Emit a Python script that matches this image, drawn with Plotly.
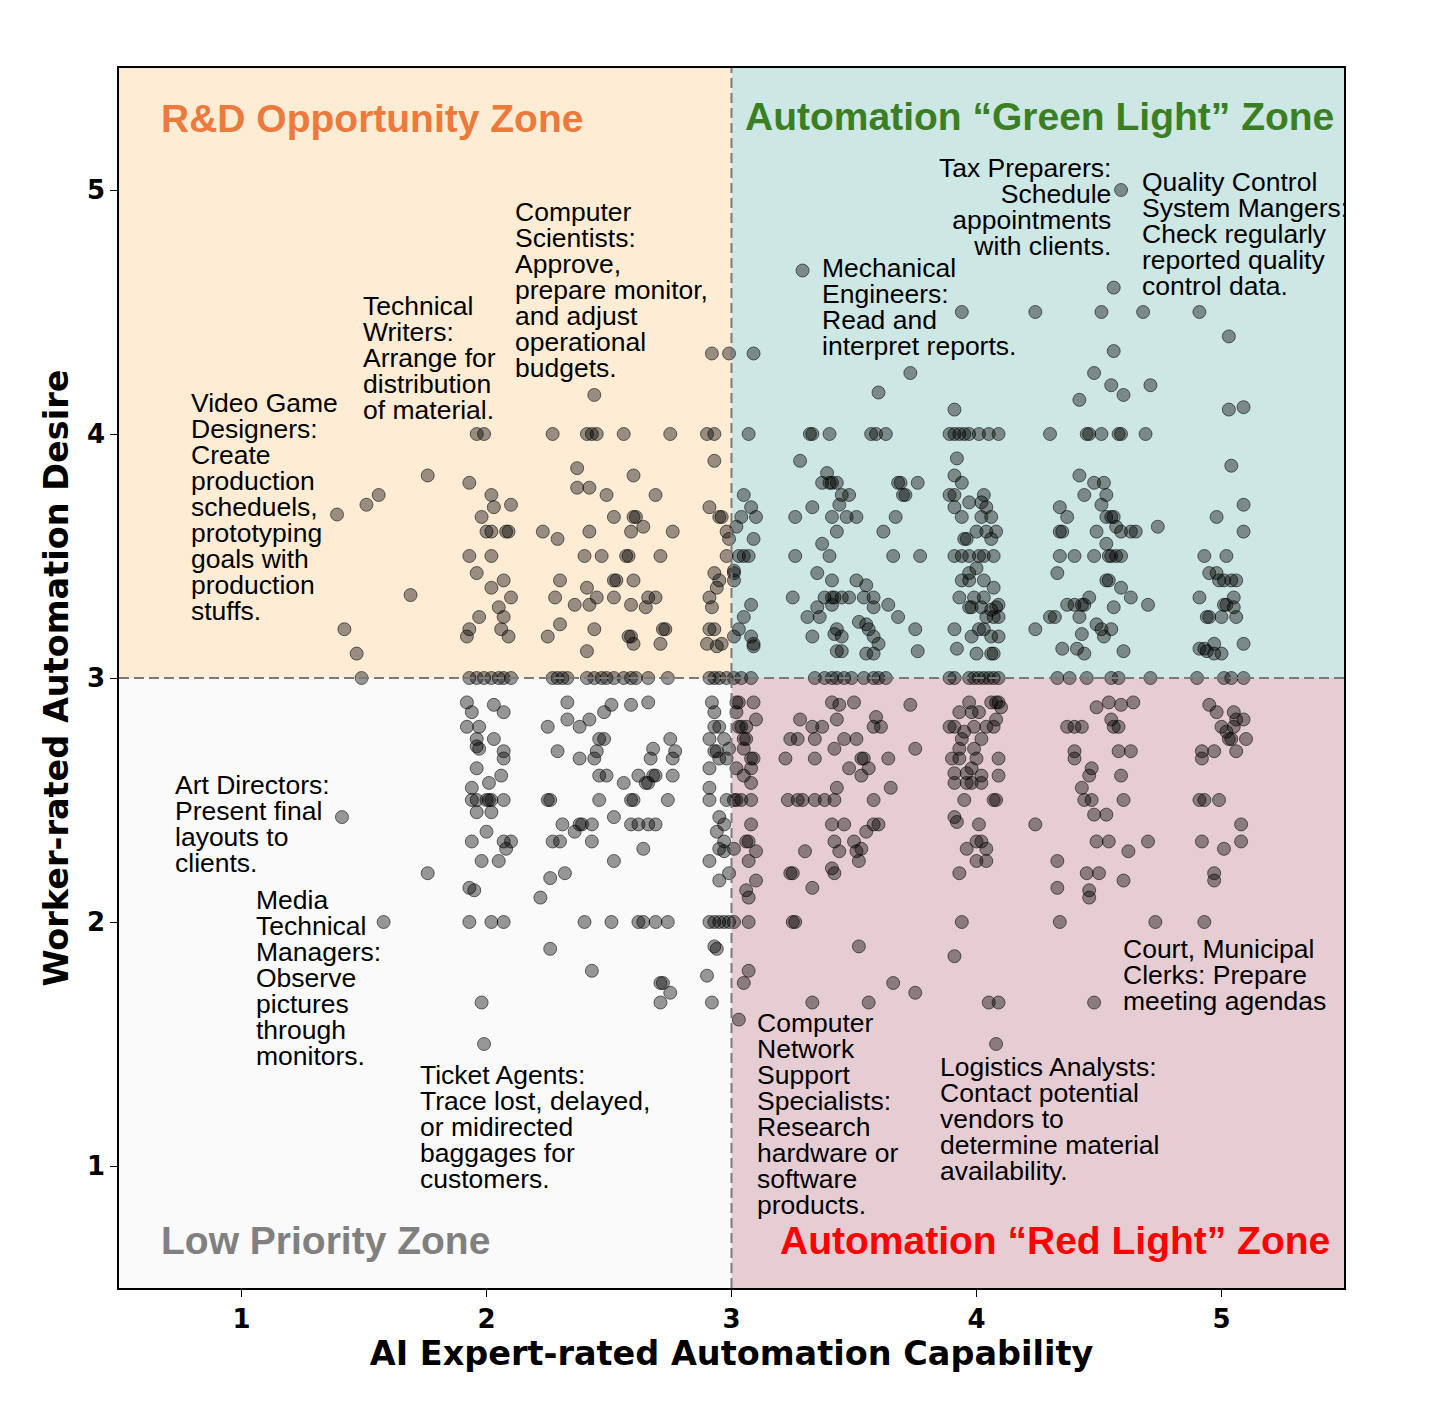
import plotly.graph_objects as go

# ---------------- data ----------------
# R&D Opportunity Zone (x < 3, y >= 3)
rd_x = [1.39, 1.42, 1.47, 1.49, 1.51, 1.56, 1.76, 1.69,
        1.96, 1.99, 1.93, 2.02, 2.03, 2.10, 1.98, 2.00, 2.02, 2.08, 2.09, 1.93, 2.02, 1.96, 2.07, 2.02,
        2.10, 2.05, 1.97, 2.07, 1.93, 1.92, 2.06, 2.09,
        1.93, 1.96, 1.99, 2.02, 2.05, 2.07, 2.10,
        2.44, 2.27, 2.41, 2.43, 2.45, 2.56, 2.75, 2.90, 2.93, 2.93, 2.37, 2.60, 2.37, 2.42, 2.49, 2.69,
        2.91, 2.95, 2.96, 2.52, 2.60, 2.61, 2.64, 2.23, 2.29, 2.42, 2.59, 2.76, 2.98, 2.99, 2.40, 2.47,
        2.57, 2.58, 2.71, 2.98, 2.93, 2.30, 2.52, 2.53, 2.60, 2.95, 2.41, 2.94, 2.28, 2.45, 2.52, 2.66,
        2.69, 2.91, 2.36, 2.42, 2.59, 2.65, 2.92, 2.30, 2.44, 2.25, 2.58, 2.59, 2.60, 2.72, 2.73, 2.71,
        2.91, 2.93, 2.90, 2.94, 2.96, 2.41, 2.92, 2.99,
        2.27, 2.29, 2.31, 2.33, 2.41, 2.44, 2.47, 2.49, 2.52, 2.56, 2.59, 2.61, 2.66, 2.74, 2.91, 2.93,
        2.95, 2.98]
rd_y = [3.67, 3.20, 3.10, 3.00, 3.71, 3.75, 3.83, 3.34,
        4.00, 4.00, 3.80, 3.75, 3.70, 3.71, 3.66, 3.60, 3.60, 3.60, 3.60, 3.50, 3.50, 3.43, 3.40, 3.37,
        3.33, 3.29, 3.25, 3.25, 3.20, 3.17, 3.20, 3.17,
        3.00, 3.00, 3.00, 3.00, 3.00, 3.00, 3.00,
        4.16, 4.00, 4.00, 4.00, 4.00, 4.00, 4.00, 4.00, 4.00, 3.89, 3.86, 3.83, 3.78, 3.78, 3.75, 3.75,
        3.70, 3.66, 3.66, 3.66, 3.66, 3.66, 3.62, 3.60, 3.57, 3.60, 3.60, 3.60, 3.60, 3.57, 3.50, 3.50,
        3.50, 3.50, 3.50, 3.50, 3.43, 3.40, 3.40, 3.40, 3.40, 3.40, 3.37, 3.37, 3.33, 3.33, 3.33, 3.33,
        3.33, 3.33, 3.30, 3.30, 3.30, 3.29, 3.29, 3.22, 3.20, 3.17, 3.17, 3.17, 3.14, 3.20, 3.20, 3.14,
        3.20, 3.20, 3.14, 3.13, 3.14, 3.11, 4.33, 4.33,
        3.00, 3.00, 3.00, 3.00, 3.00, 3.00, 3.00, 3.00, 3.00, 3.00, 3.00, 3.00, 3.00, 3.00, 3.00, 3.00,
        3.00, 3.00]

# Automation "Green Light" Zone (x >= 3, y >= 3)
green_x = [3.01, 3.09, 3.29, 3.73, 3.60,
           3.07, 3.32, 3.33, 3.40, 3.57, 3.59, 3.63,
           3.05, 3.08, 3.04, 3.10, 3.02, 3.09, 3.03, 3.05, 3.07, 3.01, 3.01, 3.08, 3.05, 3.03, 3.08, 3.09,
           3.09, 3.01,
           3.26, 3.28, 3.33, 3.39, 3.37, 3.40, 3.41, 3.43, 3.48, 3.45, 3.44, 3.41, 3.47, 3.51, 3.67, 3.68,
           3.69, 3.76, 3.70, 3.71, 3.37, 3.43, 3.62, 3.26, 3.40, 3.66, 3.77, 3.35, 3.41, 3.51, 3.55, 3.25,
           3.38, 3.41, 3.42, 3.45, 3.48, 3.54, 3.58, 3.35, 3.41, 3.58, 3.64, 3.31, 3.36, 3.68, 3.52, 3.55,
           3.43, 3.42, 3.45, 3.56, 3.58, 3.60, 3.33, 3.75, 3.43, 3.45, 3.55, 3.58, 3.76,
           3.01, 3.04, 3.08, 3.34, 3.38, 3.41, 3.43, 3.46, 3.49, 3.54, 3.58, 3.60, 3.63,
           4.55, 4.60, 4.71, 4.42, 3.91, 5.03, 5.09,
           4.59, 4.56, 3.94, 4.24, 4.51, 4.68, 4.91, 5.03, 4.56, 4.48,
           3.89, 3.91, 3.93, 3.95, 3.97, 4.01, 4.05, 4.09, 4.30, 4.45, 4.46, 4.51, 4.58, 4.59, 4.69,
           3.92, 5.04, 3.91, 3.94, 4.42, 4.48, 4.52, 3.89, 3.91, 4.03, 3.91, 3.94, 3.97, 4.02, 4.04, 4.02,
           4.06, 4.44, 4.53, 4.51, 4.34, 4.37, 4.53, 4.55, 4.56, 5.09, 4.98, 4.57, 4.59, 4.63, 4.65, 4.74,
           4.34, 4.35, 4.49, 4.00, 4.04, 4.08, 4.06, 3.95, 3.96, 4.53, 5.09,
           3.91, 3.94, 3.97, 4.01, 4.03, 4.07, 4.34, 4.40, 4.48, 4.54, 4.55, 4.57, 4.59, 4.93, 5.02,
           3.97, 4.00, 3.94, 3.97, 4.03, 4.07, 4.33, 4.53, 4.54, 4.59, 4.95, 4.98, 4.99, 5.01, 5.04, 5.06,
           3.93, 3.99, 4.03, 3.97, 3.98, 4.02, 4.09, 4.08, 4.06, 4.46, 4.63, 4.37, 4.40, 4.43, 4.44, 4.56,
           4.70, 4.91, 5.01, 5.02, 5.05, 5.05, 4.04, 4.07, 4.09, 4.30, 4.32, 4.42, 4.94, 4.95, 5.00, 5.06,
           3.91, 4.01, 4.03, 4.24, 4.49, 4.51, 4.52, 4.55, 3.98, 4.06, 4.09, 4.43, 3.92, 4.00, 4.06, 4.07,
           4.35, 4.41, 4.44, 4.60, 4.91, 4.93, 4.94, 4.97, 4.97, 5.00, 5.09,
           3.89, 3.91, 3.97, 3.99, 4.01, 4.03, 4.05, 4.07, 4.09, 4.33, 4.38, 4.45, 4.55, 4.58, 4.71, 4.90,
           5.01, 5.04, 5.09]
green_y = [3.44, 4.33, 4.67, 4.25, 4.17,
           4.00, 4.00, 4.00, 4.00, 4.00, 4.00, 4.00,
           3.75, 3.70, 3.66, 3.66, 3.62, 3.57, 3.50, 3.50, 3.50, 3.43, 3.40, 3.30, 3.25, 3.20, 3.17, 3.14,
           3.13, 3.17,
           3.66, 3.89, 3.70, 3.84, 3.80, 3.80, 3.80, 3.80, 3.75, 3.75, 3.71, 3.66, 3.66, 3.66, 3.66, 3.80,
           3.80, 3.80, 3.75, 3.75, 3.55, 3.60, 3.60, 3.50, 3.50, 3.50, 3.50, 3.43, 3.40, 3.40, 3.38, 3.33,
           3.33, 3.33, 3.33, 3.33, 3.33, 3.33, 3.33, 3.29, 3.30, 3.29, 3.30, 3.25, 3.25, 3.25, 3.23, 3.22,
           3.20, 3.18, 3.17, 3.20, 3.17, 3.14, 3.17, 3.20, 3.11, 3.11, 3.10, 3.10, 3.11,
           3.00, 3.00, 3.00, 3.00, 3.00, 3.00, 3.00, 3.00, 3.00, 3.00, 3.00, 3.00, 3.00,
           4.20, 4.16, 4.20, 4.14, 4.10, 4.10, 4.11,
           5.00, 4.60, 4.50, 4.50, 4.50, 4.50, 4.50, 4.40, 4.34, 4.25,
           4.00, 4.00, 4.00, 4.00, 4.00, 4.00, 4.00, 4.00, 4.00, 4.00, 4.00, 4.00, 4.00, 4.00, 4.00,
           3.90, 3.87, 3.83, 3.80, 3.83, 3.80, 3.80, 3.75, 3.75, 3.75, 3.70, 3.66, 3.72, 3.72, 3.70, 3.66,
           3.66, 3.75, 3.75, 3.71, 3.70, 3.66, 3.66, 3.66, 3.66, 3.71, 3.66, 3.62, 3.60, 3.60, 3.60, 3.62,
           3.60, 3.60, 3.60, 3.60, 3.60, 3.60, 3.57, 3.57, 3.57, 3.55, 3.60,
           3.50, 3.50, 3.50, 3.50, 3.50, 3.50, 3.50, 3.50, 3.50, 3.50, 3.50, 3.50, 3.50, 3.50, 3.50,
           3.43, 3.45, 3.40, 3.40, 3.40, 3.37, 3.43, 3.40, 3.40, 3.37, 3.43, 3.43, 3.40, 3.40, 3.40, 3.40,
           3.33, 3.33, 3.33, 3.29, 3.29, 3.29, 3.30, 3.29, 3.28, 3.33, 3.33, 3.30, 3.30, 3.30, 3.30, 3.29,
           3.30, 3.33, 3.30, 3.30, 3.33, 3.29, 3.25, 3.25, 3.25, 3.25, 3.25, 3.25, 3.25, 3.25, 3.25, 3.25,
           3.20, 3.20, 3.20, 3.20, 3.22, 3.20, 3.17, 3.20, 3.17, 3.17, 3.17, 3.18, 3.12, 3.10, 3.10, 3.10,
           3.12, 3.12, 3.10, 3.11, 3.12, 3.12, 3.11, 3.14, 3.10, 3.10, 3.14,
           3.00, 3.00, 3.00, 3.00, 3.00, 3.00, 3.00, 3.00, 3.00, 3.00, 3.00, 3.00, 3.00, 3.00, 3.00, 3.00,
           3.00, 3.00, 3.00]

# Low Priority Zone (x < 3, y < 3)
low_x = [1.41, 1.76, 1.58, 1.98, 1.99,
         1.92, 1.94, 2.03, 2.07, 1.92, 1.97, 1.96, 1.96, 1.97, 2.03, 2.07, 2.07, 1.96, 2.06, 2.01, 1.94,
         1.94, 1.96, 2.00, 2.01, 2.02, 2.07, 1.96, 2.02, 2.00, 1.94, 2.07, 2.10, 2.08, 1.98, 2.05, 1.93,
         1.95, 1.93, 2.02, 2.07, 2.22,
         2.33, 2.51, 2.59, 2.66, 2.92, 2.48, 2.93, 2.33, 2.42, 2.25, 2.38, 2.93, 2.95, 2.46, 2.48, 2.75,
         2.91, 2.97, 2.29, 2.45, 2.68, 2.77, 2.93, 2.94, 2.99, 2.38, 2.44, 2.67, 2.76, 2.95, 2.98, 2.91,
         2.46, 2.49, 2.56, 2.62, 2.65, 2.66, 2.68, 2.69, 2.76, 2.91, 2.25, 2.26, 2.46, 2.59, 2.60, 2.74,
         2.91, 2.98, 2.31, 2.36, 2.38, 2.39, 2.43, 2.52, 2.59, 2.62, 2.66, 2.69, 2.95, 2.97, 2.94, 2.27,
         2.30, 2.43, 2.97, 2.64, 2.95, 2.97, 2.52, 2.91, 2.32, 2.26, 2.99, 2.95,
         2.40, 2.51, 2.62, 2.64, 2.69, 2.74, 2.91, 2.93, 2.95, 2.97, 2.99,
         2.26, 2.93, 2.94, 2.43, 2.90, 2.71, 2.72, 2.75, 2.71, 2.92]
low_y = [2.43, 2.20, 2.00, 1.67, 1.50,
         2.90, 2.86, 2.89, 2.86, 2.80, 2.80, 2.75, 2.72, 2.71, 2.75, 2.70, 2.67, 2.63, 2.60, 2.57, 2.55,
         2.50, 2.50, 2.50, 2.50, 2.50, 2.50, 2.45, 2.45, 2.37, 2.33, 2.33, 2.33, 2.30, 2.25, 2.25, 2.14,
         2.13, 2.00, 2.00, 2.00, 2.10,
         2.90, 2.89, 2.89, 2.90, 2.90, 2.86, 2.86, 2.83, 2.83, 2.80, 2.80, 2.80, 2.80, 2.75, 2.75, 2.75,
         2.75, 2.75, 2.70, 2.70, 2.71, 2.70, 2.70, 2.70, 2.71, 2.67, 2.67, 2.67, 2.67, 2.67, 2.67, 2.63,
         2.60, 2.60, 2.57, 2.60, 2.57, 2.57, 2.60, 2.60, 2.60, 2.55, 2.50, 2.50, 2.50, 2.50, 2.50, 2.50,
         2.50, 2.50, 2.40, 2.37, 2.40, 2.40, 2.40, 2.43, 2.40, 2.40, 2.40, 2.40, 2.43, 2.40, 2.37, 2.33,
         2.33, 2.33, 2.33, 2.30, 2.30, 2.29, 2.25, 2.25, 2.20, 2.18, 2.20, 2.17,
         2.00, 2.00, 2.00, 2.00, 2.00, 2.00, 2.00, 2.00, 2.00, 2.00, 2.00,
         1.89, 1.90, 1.89, 1.80, 1.78, 1.75, 1.75, 1.71, 1.67, 1.67]

# Automation "Red Light" Zone (x >= 3, y < 3)
red_x = [3.01, 3.02, 3.03, 3.09, 3.02, 3.10, 3.03, 3.04, 3.06, 3.05, 3.06, 3.05, 3.08, 3.09, 3.02,
         3.08, 3.05, 3.08, 3.01, 3.02, 3.04, 3.08, 3.08, 3.06, 3.07, 3.01, 3.10, 3.07, 3.10, 3.06, 3.07,
         3.07, 3.07, 3.05, 3.03,
         3.28, 3.33, 3.37, 3.41, 3.44, 3.43, 3.50, 3.73, 3.59, 3.58, 3.61, 3.24, 3.27, 3.34, 3.46, 3.51,
         3.42, 3.75, 3.22, 3.34, 3.53, 3.54, 3.64, 3.48, 3.56, 3.53, 3.43, 3.65, 3.23, 3.27, 3.29, 3.34,
         3.38, 3.42, 3.58, 3.41, 3.46, 3.58, 3.60, 3.55, 3.42, 3.50, 3.53, 3.51, 3.30, 3.44, 3.52, 3.24,
         3.25, 3.41, 3.42, 3.33, 3.25, 3.26, 3.52, 3.66, 3.75, 3.33, 3.56,
         3.97, 4.06, 4.08, 4.09, 3.93, 3.98, 4.01, 4.08, 4.10, 3.89, 3.91, 3.99, 4.04, 4.07, 3.95, 3.94,
         4.02, 3.93, 3.99, 3.90, 3.93, 4.00, 4.09, 3.91, 3.96, 3.98, 4.02, 4.09, 3.91, 3.96, 3.98, 4.02,
         3.95, 4.07, 4.08, 3.91, 3.92, 4.01, 4.24, 4.00, 4.02, 3.96, 4.04, 4.00, 4.04, 3.93, 3.94, 3.91,
         4.05, 4.09, 4.08,
         4.40, 4.40, 4.37, 4.40, 4.43, 4.49, 4.54, 4.59, 4.64, 4.55, 4.56, 4.58, 4.58, 4.63, 4.47, 4.46,
         4.43, 4.59, 4.44, 4.47, 4.60, 4.48, 4.53, 4.49, 4.54, 4.70, 4.62, 4.33, 4.45, 4.50, 4.60, 4.33,
         4.46, 4.46, 4.34, 4.73, 4.93, 4.48,
         4.95, 4.98, 5.05, 5.06, 5.09, 5.00, 5.02, 5.03, 5.05, 5.04, 5.10, 4.92, 4.97, 5.06, 4.92, 4.91,
         4.93, 4.99, 5.08, 5.08, 4.92, 5.01, 4.97, 4.97]
red_y = [2.00, 2.90, 2.90, 2.90, 2.86, 2.83, 2.80, 2.80, 2.80, 2.75, 2.75, 2.71, 2.67, 2.67, 2.63,
         2.63, 2.60, 2.57, 2.50, 2.50, 2.50, 2.50, 2.40, 2.33, 2.33, 2.30, 2.29, 2.25, 2.17, 2.13, 2.10,
         2.00, 1.80, 1.75, 1.60,
         2.83, 2.80, 2.80, 2.90, 2.89, 2.83, 2.90, 2.89, 2.84, 2.80, 2.80, 2.75, 2.75, 2.75, 2.75, 2.75,
         2.71, 2.71, 2.67, 2.67, 2.67, 2.67, 2.67, 2.63, 2.63, 2.60, 2.55, 2.55, 2.50, 2.50, 2.50, 2.50,
         2.50, 2.50, 2.50, 2.40, 2.40, 2.40, 2.40, 2.37, 2.33, 2.33, 2.30, 2.29, 2.29, 2.29, 2.25, 2.20,
         2.20, 2.22, 2.20, 2.14, 2.00, 2.00, 1.90, 1.75, 1.71, 1.67, 1.67,
         2.90, 2.90, 2.90, 2.90, 2.86, 2.86, 2.86, 2.83, 2.88, 2.80, 2.80, 2.80, 2.80, 2.80, 2.78, 2.75,
         2.75, 2.71, 2.71, 2.67, 2.67, 2.67, 2.67, 2.61, 2.61, 2.63, 2.60, 2.60, 2.57, 2.57, 2.57, 2.57,
         2.50, 2.50, 2.50, 2.43, 2.41, 2.40, 2.40, 2.33, 2.33, 2.30, 2.30, 2.25, 2.25, 2.20, 2.00, 1.86,
         1.67, 1.67, 1.50,
         2.70, 2.67, 2.80, 2.80, 2.80, 2.88, 2.90, 2.89, 2.90, 2.83, 2.80, 2.80, 2.70, 2.70, 2.63, 2.60,
         2.55, 2.60, 2.50, 2.50, 2.50, 2.44, 2.44, 2.33, 2.33, 2.33, 2.29, 2.25, 2.20, 2.20, 2.17, 2.14,
         2.13, 2.10, 2.00, 2.00, 2.00, 1.67,
         2.89, 2.86, 2.86, 2.83, 2.83, 2.80, 2.78, 2.75, 2.80, 2.75, 2.75, 2.70, 2.70, 2.70, 2.67, 2.50,
         2.50, 2.50, 2.40, 2.33, 2.33, 2.30, 2.20, 2.17]

tick_vals = [1, 2, 3, 4, 5]
tick_text = ["1", "2", "3", "4", "5"]

zone_titles = ["R&D Opportunity Zone", "Automation \u201cGreen Light\u201d Zone",
               "Low Priority Zone", "Automation \u201cRed Light\u201d Zone"]

# task labels: (lines, x, first-line centre y, anchor)
task_labels = [
    (["Video Game", "Designers:", "Create", "production", "scheduels,", "prototyping",
      "goals with", "production", "stuffs."], 0.792, 4.127, "left"),
    (["Technical", "Writers:", "Arrange for", "distribution", "of material."], 1.494, 4.525, "left"),
    (["Computer", "Scientists:", "Approve,", "prepare monitor,", "and adjust", "operational",
      "budgets."], 2.118, 4.910, "left"),
    (["Mechanical", "Engineers:", "Read and", "interpret reports."], 3.371, 4.680, "left"),
    (["Tax Preparers:", "Schedule", "appointments", "with clients."], 4.547, 5.090, "right"),
    (["Quality Control", "System Mangers:", "Check regularly", "reported quality",
      "control data."], 4.677, 5.033, "left"),
    (["Art Directors:", "Present final", "layouts to", "clients."], 0.727, 2.561, "left"),
    (["Media", "Technical", "Managers:", "Observe", "pictures", "through", "monitors."],
     1.061, 2.090, "left"),
    (["Ticket Agents:", "Trace lost, delayed,", "or midirected", "baggages for", "customers."],
     1.727, 1.373, "left"),
    (["Computer", "Network", "Support", "Specialists:", "Research", "hardware or", "software",
      "products."], 3.106, 1.586, "left"),
    (["Logistics Analysts:", "Contact potential", "vendors to", "determine material",
      "availability."], 3.853, 1.406, "left"),
    (["Court, Municipal", "Clerks: Prepare", "meeting agendas"], 4.596, 1.889, "left"),
]

# ---------------- figure ----------------
all_x = rd_x + green_x + low_x + red_x
all_y = rd_y + green_y + low_y + red_y

fig = go.Figure()
fig.add_trace(go.Scatter(
    x=all_x, y=all_y, mode="markers",
    marker=dict(size=13, color="rgba(0,0,0,0.40)",
                line=dict(color="rgba(0,0,0,0.55)", width=1)),
    showlegend=False, hoverinfo="x+y"))

shapes = [
    dict(type="rect", xref="x", yref="y", x0=0.5, x1=3, y0=3, y1=5.5,
         fillcolor="#FEECD5", line=dict(width=0), layer="below"),
    dict(type="rect", xref="x", yref="y", x0=3, x1=5.5, y0=3, y1=5.5,
         fillcolor="#CDE7E5", line=dict(width=0), layer="below"),
    dict(type="rect", xref="x", yref="y", x0=0.5, x1=3, y0=0.5, y1=3,
         fillcolor="#FAFAFA", line=dict(width=0), layer="below"),
    dict(type="rect", xref="x", yref="y", x0=3, x1=5.5, y0=0.5, y1=3,
         fillcolor="#E6CDD3", line=dict(width=0), layer="below"),
    dict(type="line", xref="x", yref="y", x0=3, x1=3, y0=0.5, y1=5.5,
         line=dict(color="#7A7A7A", width=2, dash="10px,5px"), layer="above"),
    dict(type="line", xref="x", yref="y", x0=0.5, x1=5.5, y0=3, y1=3,
         line=dict(color="#7A7A7A", width=2, dash="10px,5px"), layer="above"),
]

annotations = []
text_font = "Liberation Sans, Arial, sans-serif"
zone_specs = [(zone_titles[0], 0.670, 5.295, "left", "#EC7A3C"),
              (zone_titles[1], 4.259, 5.303, "center", "#3B7F23"),
              (zone_titles[2], 0.670, 0.693, "left", "#808080"),
              (zone_titles[3], 4.322, 0.693, "center", "#FF0000")]
for text, x, y, anchor, color in zone_specs:
    annotations.append(dict(x=x, y=y, xref="x", yref="y", text=text, showarrow=False,
                            xanchor=anchor, yanchor="middle", borderpad=0, borderwidth=0,
                            font=dict(family=text_font, size=39, color=color, weight="bold")))

# line spacing of 26 px: base font 20 px (x1.3 line spacing), glyphs drawn at 26.5 px
line_step = 26 / 244.0
for lines, x, y0, anchor in task_labels:
    body = "<br>".join('<span style="font-size:26.5px">%s</span>' % ln for ln in lines)
    yc = y0 - (len(lines) - 1) / 2.0 * line_step
    annotations.append(dict(x=x, y=yc, xref="x", yref="y", text=body,
                            showarrow=False, xanchor=anchor, yanchor="middle",
                            align=anchor, borderpad=0, borderwidth=0,
                            font=dict(family=text_font, size=20, color="black")))

axis_common = dict(range=[0.5, 5.5], tickmode="array", tickvals=tick_vals, ticktext=tick_text,
                   ticks="outside", ticklen=7, tickwidth=1.2, tickcolor="black",
                   showline=True, linecolor="black", linewidth=1.5, mirror=True,
                   showgrid=False, zeroline=False,
                   tickfont=dict(family="DejaVu Sans", size=26, color="black", weight="bold"))

fig.update_layout(
    width=1420, height=1408,
    margin=dict(l=111, r=84, t=60, b=128),
    paper_bgcolor="white", plot_bgcolor="white",
    shapes=shapes, annotations=annotations,
    xaxis=dict(**axis_common,
               title=dict(text="AI Expert-rated Automation Capability", standoff=6,
                          font=dict(family="DejaVu Sans", size=33.5, color="black", weight="bold"))),
    yaxis=dict(**axis_common,
               title=dict(text="Worker-rated Automation Desire", standoff=8,
                          font=dict(family="DejaVu Sans", size=33.5, color="black", weight="bold"))),
)

fig.write_html("out.html")
